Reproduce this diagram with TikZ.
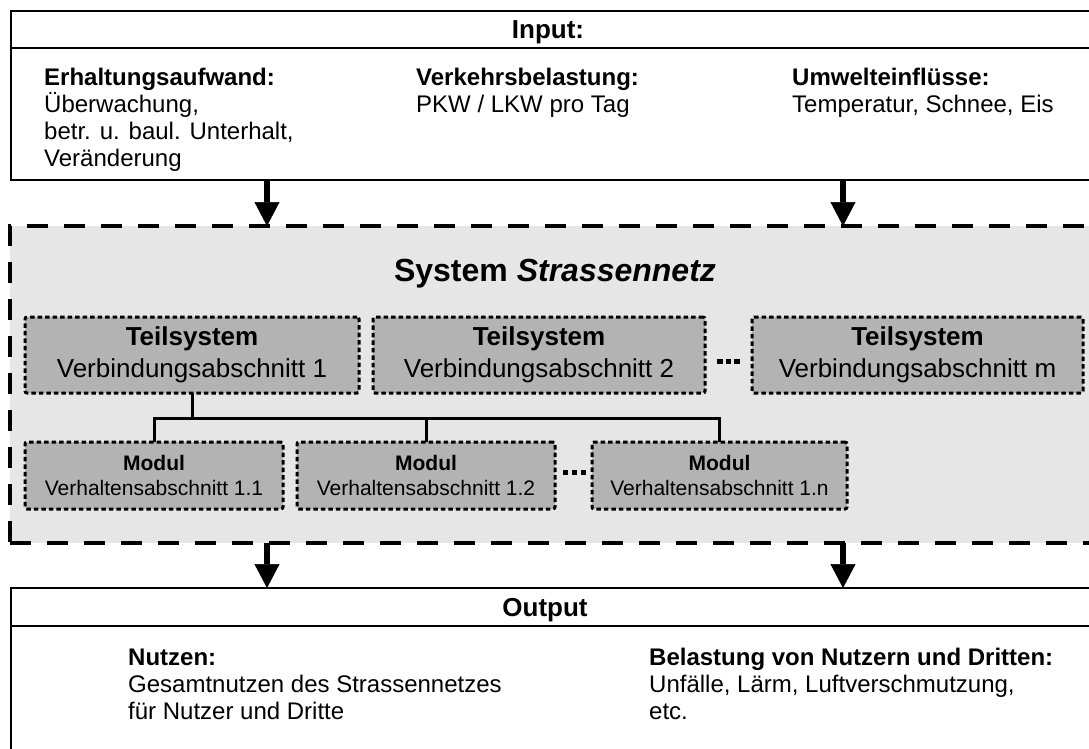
\documentclass[tikz,border=0pt]{standalone}
\usepackage{fontspec}
\setmainfont{Liberation Sans}
\usetikzlibrary{arrows.meta}
\definecolor{sysgray}{HTML}{E6E6E6}
\definecolor{boxgray}{HTML}{B3B3B3}
\begin{document}
\begin{tikzpicture}[x=1pt,y=-1pt,
  frame/.style={draw=black, line width=2pt, fill=white, rectangle, inner sep=0pt, outer sep=0pt, anchor=north west},
  sysframe/.style={draw=black, line width=4pt, dash pattern=on 21pt off 16pt, fill=sysgray, rectangle, inner sep=0pt, outer sep=0pt, anchor=north west},
  unitbox/.style={draw=black, line width=3pt, dash pattern=on 4.5pt off 3pt, fill=boxgray, rounded corners=2pt, rectangle, inner sep=0pt, outer sep=0pt, align=center},
  teilbox/.style={unitbox, minimum height=76pt, font=\fontsize{26}{32}\selectfont},
  modbox/.style={unitbox, minimum height=67pt, font=\fontsize{21}{25}\selectfont},
  bigarrow/.style={line width=5.5pt, -{Triangle[width=25pt,length=24pt,line width=0.5pt]}},
  tree/.style={line width=3pt},
  dotrow/.style={line width=5pt, dash pattern=on 5.5pt off 3pt},
  txt/.style={inner sep=0pt, anchor=base west, font=\fontsize{24}{27}\selectfont},
  txtb/.style={inner sep=0pt, anchor=base west, font=\fontsize{24}{27}\selectfont\bfseries},
  head/.style={inner sep=0pt, anchor=base, font=\fontsize{26}{30}\selectfont\bfseries}]

\useasboundingbox (0,0) rectangle (1089,748);
\fill[white] (0,0) rectangle (1089,748);
\clip (0,0) rectangle (1089,748);

% input block
\node[frame, minimum width=1100pt, minimum height=37pt] (inhead) at (11,11) {};
\node[frame, minimum width=1100pt, minimum height=132pt] (inbody) at (11,48) {};
\node[head] (intitle) at (548,38.8) {Input:};

\node[txtb] (e0) at (44,85) {Erhaltungsaufwand:};
\node[txt]  (e1) at (44,112) {Überwachung,};
\node[txt]  (e2) at (44,139) {betr. u. baul. Unterhalt,};
\node[txt]  (e3) at (44,166) {Veränderung};
\node[txtb] (v0) at (416,85) {Verkehrsbelastung:};
\node[txt]  (v1) at (416,112) {PKW / LKW pro Tag};
\node[txtb] (u0) at (792,85) {Umwelteinflüsse:};
\node[txt]  (u1) at (792,112) {Temperatur, Schnee, Eis};

% system block
\node[sysframe, minimum width=1100pt, minimum height=317pt] (sys) at (10,226) {};
\node[inner sep=0pt, anchor=base, font=\fontsize{32}{38}\selectfont\bfseries] (systitle) at (555,281.7) {System \textit{Strassennetz}};

\node[teilbox, minimum width=334pt] (t1) at (192,355) {\textbf{Teilsystem}\\Verbindungsabschnitt 1};
\node[teilbox, minimum width=332pt] (t2) at (539,355) {\textbf{Teilsystem}\\Verbindungsabschnitt 2};
\node[teilbox, minimum width=331pt] (tm) at (917.5,355) {\textbf{Teilsystem}\\Verbindungsabschnitt m};

\node[modbox, minimum width=258pt] (m1) at (154,475.5) {\textbf{Modul}\\Verhaltensabschnitt 1.1};
\node[modbox, minimum width=258pt] (m2) at (426,475.5) {\textbf{Modul}\\Verhaltensabschnitt 1.2};
\node[modbox, minimum width=255pt] (mn) at (719.5,475.5) {\textbf{Modul}\\Verhaltensabschnitt 1.n};

\draw[dotrow, shorten <=12pt, shorten >=12pt] ([yshift=-6.5pt]t2.east) -- ([yshift=-6.5pt]tm.west);
\draw[dotrow, dash pattern=on 5pt off 4pt, shorten <=8pt, shorten >=6pt] ([yshift=3pt]m2.east) -- ([yshift=3pt]mn.west);

% hierarchy lines
\coordinate (bus) at (192,418);
\draw[tree] (t1.south) -- (bus);
\draw[tree] (m1.north) -- (m1.north |- bus) -- (mn.north |- bus) -- (mn.north);
\draw[tree] (m2.north) -- (m2.north |- bus);

% output block
\node[frame, minimum width=1100pt, minimum height=38pt] (outhead) at (11,588) {};
\node[frame, minimum width=1100pt, minimum height=200pt] (outbody) at (11,626) {};
\node[head] (outtitle) at (545,616) {Output};

\node[txtb] (n0) at (128,665) {Nutzen:};
\node[txt]  (n1) at (128,692) {Gesamtnutzen des Strassennetzes};
\node[txt]  (n2) at (128,719) {für Nutzer und Dritte};
\node[txtb] (b0) at (649,665) {Belastung von Nutzern und Dritten:};
\node[txt]  (b1) at (649,692) {Unfälle, Lärm, Luftverschmutzung,};
\node[txt]  (b2) at (649,719) {etc.};

% flow arrows
\coordinate (xl) at (267,0);
\coordinate (xr) at (843,0);
\draw[bigarrow] (xl |- inbody.south) -- (xl |- sys.north);
\draw[bigarrow] (xr |- inbody.south) -- (xr |- sys.north);
\draw[bigarrow] (xl |- sys.south) -- (xl |- outhead.north);
\draw[bigarrow] (xr |- sys.south) -- (xr |- outhead.north);
\end{tikzpicture}
\end{document}
